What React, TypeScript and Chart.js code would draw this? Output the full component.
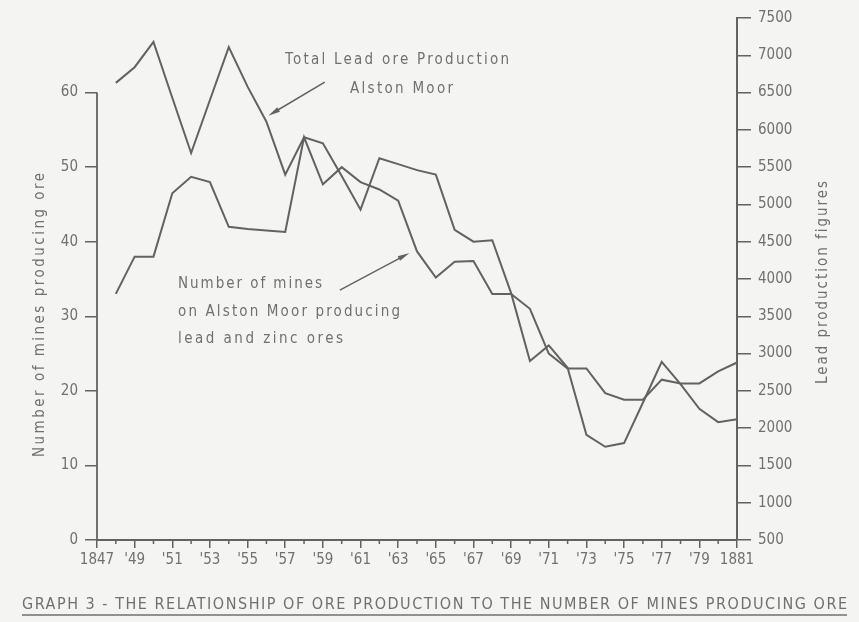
import React, { useEffect, useRef } from "react";
import { Chart, registerables } from "chart.js";

Chart.register(...registerables);

// Years of record, Alston Moor
const years = [
  1848, 1849, 1850, 1851, 1852, 1853, 1854, 1855, 1856, 1857, 1858, 1859,
  1860, 1861, 1862, 1863, 1864, 1865, 1866, 1867, 1868, 1869, 1870, 1871,
  1872, 1873, 1874, 1875, 1876, 1877, 1878, 1879, 1880, 1881,
];

// Total lead ore production (right axis)
const leadOreProduction = [
  6630, 6840, 7180, 6430, 5690, 6400, 7110, 6580, 6110, 5400, 5900, 5820,
  5380, 4930, 5620, 5540, 5460, 5400, 4660, 4500, 4520, 3810, 2900, 3110,
  2810, 1910, 1750, 1800, 2340, 2890, 2590, 2260, 2080, 2120,
];

// Number of mines producing lead and zinc ores (left axis)
const minesProducing = [
  33, 38, 38, 46.5, 48.7, 48, 42, 41.7, 41.5, 41.3, 54, 47.7,
  50, 48, 47, 45.5, 38.7, 35.2, 37.3, 37.4, 33, 33, 31, 25,
  23, 23, 19.7, 18.8, 18.8, 21.5, 21, 21, 22.6, 23.8,
];

// Axis ranges and tick labels
const yearRange = [1847, 1881];
const minesRange = [0, 70];
const minesTickLabels = ["0", "10", "20", "30", "40", "50", "60"];
const productionRange = [500, 7500];

const leadLabel = ["Total Lead ore Production", "Alston Moor"];
const minesLabel = ["Number of mines", "on Alston Moor producing", "lead and zinc ores"];
const leftTitle = "Number of mines producing ore";
const rightTitle = "Lead production figures";
const graphTitle =
  "GRAPH 3 - THE RELATIONSHIP OF ORE PRODUCTION TO THE NUMBER OF MINES PRODUCING ORE";

const INK = "#626262";
const TEXT = "#707070";
const PAPER = "#f4f4f2";
const FONT = '"DejaVu Sans Condensed", "Liberation Sans Narrow", "DejaVu Sans", sans-serif';

function yearLabel(v: number): string {
  if (v === 1847 || v === 1881) return String(v);
  if (v % 2 === 1) return "'" + String(v).slice(2);
  return "";
}

// Draws text spread to a given width (stencil-style lettering)
function spacedText(
  ctx: CanvasRenderingContext2D,
  text: string,
  x: number,
  y: number,
  width: number
) {
  ctx.save();
  (ctx as any).letterSpacing = "0px";
  const w = ctx.measureText(text).width;
  const s = (width - w) / Math.max(text.length - 1, 1);
  (ctx as any).letterSpacing = `${s}px`;
  ctx.textAlign = "left";
  ctx.textBaseline = "middle";
  ctx.fillText(text, x, y);
  ctx.restore();
}

function arrow(
  ctx: CanvasRenderingContext2D,
  x0: number,
  y0: number,
  x1: number,
  y1: number
) {
  const a = Math.atan2(y1 - y0, x1 - x0);
  const len = 12;
  const hw = 2.6;
  ctx.save();
  ctx.strokeStyle = INK;
  ctx.fillStyle = INK;
  ctx.lineWidth = 1.5;
  ctx.beginPath();
  ctx.moveTo(x0, y0);
  ctx.lineTo(x1 - Math.cos(a) * len * 0.6, y1 - Math.sin(a) * len * 0.6);
  ctx.stroke();
  ctx.beginPath();
  ctx.moveTo(x1, y1);
  ctx.lineTo(
    x1 - Math.cos(a) * len - Math.sin(a) * hw,
    y1 - Math.sin(a) * len + Math.cos(a) * hw
  );
  ctx.lineTo(
    x1 - Math.cos(a) * len + Math.sin(a) * hw,
    y1 - Math.sin(a) * len - Math.cos(a) * hw
  );
  ctx.closePath();
  ctx.fill();
  ctx.restore();
}

const decorations = {
  id: "decorations",
  beforeDraw(chart: any) {
    const { ctx, width, height } = chart;
    ctx.save();
    ctx.fillStyle = PAPER;
    ctx.fillRect(0, 0, width, height);
    ctx.restore();
  },
  afterDraw(chart: any) {
    const { ctx, chartArea, scales } = chart;
    const xs = scales.x;
    const ym = scales.mines;
    const yl = scales.lead;

    ctx.save();
    ctx.strokeStyle = INK;
    ctx.lineWidth = 1.8;

    // left spine only spans the labelled range
    ctx.beginPath();
    ctx.moveTo(chartArea.left, ym.getPixelForValue(0) + 1);
    ctx.lineTo(chartArea.left, ym.getPixelForValue(60));
    ctx.stroke();

    // short ticks on the unlabelled years
    ctx.lineWidth = 1.5;
    for (let yr = yearRange[0] + 1; yr < yearRange[1]; yr += 2) {
      const px = xs.getPixelForValue(yr);
      ctx.beginPath();
      ctx.moveTo(px, chartArea.bottom);
      ctx.lineTo(px, chartArea.bottom + 4);
      ctx.stroke();
    }

    // annotations
    ctx.fillStyle = TEXT;
    ctx.font = `15px ${FONT}`;
    spacedText(ctx, leadLabel[0], 285, 60, 224);
    spacedText(ctx, leadLabel[1], 350, 89, 103);
    spacedText(ctx, minesLabel[0], 178, 284, 144);
    spacedText(ctx, minesLabel[1], 178, 312, 222);
    spacedText(ctx, minesLabel[2], 178, 339, 165);

    arrow(
      ctx,
      xs.getPixelForValue(1859.1),
      yl.getPixelForValue(6640),
      xs.getPixelForValue(1856.1),
      yl.getPixelForValue(6190)
    );
    arrow(
      ctx,
      xs.getPixelForValue(1859.9),
      ym.getPixelForValue(33.5),
      xs.getPixelForValue(1863.6),
      ym.getPixelForValue(38.5)
    );

    // axis titles
    ctx.save();
    ctx.translate(40, 315);
    ctx.rotate(-Math.PI / 2);
    spacedText(ctx, leftTitle, -142, 0, 284);
    ctx.restore();

    ctx.save();
    ctx.translate(823, 283);
    ctx.rotate(-Math.PI / 2);
    spacedText(ctx, rightTitle, -101, 0, 203);
    ctx.restore();

    // caption with underline
    ctx.font = `16px ${FONT}`;
    spacedText(ctx, graphTitle, 22, 605, 825);
    ctx.strokeStyle = TEXT;
    ctx.lineWidth = 1.5;
    ctx.beginPath();
    ctx.moveTo(22, 615);
    ctx.lineTo(847, 615);
    ctx.stroke();

    ctx.restore();
  },
};

export default function App() {
  const ref = useRef<HTMLCanvasElement>(null);

  useEffect(() => {
    const canvas = ref.current;
    if (!canvas) return;
    const tickFont = { family: FONT, size: 15 };

    const chart = new Chart(canvas, {
      type: "line",
      data: {
        datasets: [
          {
            label: "Total lead ore production",
            data: years.map((yr, i) => ({ x: yr, y: leadOreProduction[i] })),
            yAxisID: "lead",
            borderColor: INK,
            borderWidth: 2,
            pointRadius: 0,
            tension: 0,
            fill: false,
          },
          {
            label: "Number of mines producing ore",
            data: years.map((yr, i) => ({ x: yr, y: minesProducing[i] })),
            yAxisID: "mines",
            borderColor: INK,
            borderWidth: 2,
            pointRadius: 0,
            tension: 0,
            fill: false,
          },
        ],
      },
      options: {
        responsive: false,
        animation: false,
        devicePixelRatio: 1,
        layout: { padding: { top: 18, left: 0, right: 0, bottom: 0 } },
        plugins: {
          legend: { display: false },
          tooltip: { enabled: false },
        },
        scales: {
          x: {
            type: "linear",
            min: yearRange[0],
            max: yearRange[1],
            afterFit: (s: any) => {
              s.height = 82;
            },
            border: { display: true, color: INK, width: 2 },
            grid: {
              drawOnChartArea: false,
              drawTicks: true,
              tickLength: 8,
              lineWidth: 1.5,
              tickColor: (c: any) =>
                c.tick && c.tick.value % 2 === 0 ? "rgba(0,0,0,0)" : INK,
            },
            ticks: {
              stepSize: 1,
              autoSkip: false,
              maxRotation: 0,
              padding: 3,
              color: TEXT,
              font: tickFont,
              callback: (v: any) => yearLabel(Number(v)),
            },
          },
          mines: {
            type: "linear",
            position: "left",
            min: minesRange[0],
            max: minesRange[1],
            afterFit: (s: any) => {
              s.width = 97;
            },
            border: { display: false },
            grid: {
              drawOnChartArea: false,
              drawTicks: true,
              tickLength: 12,
              lineWidth: 1.5,
              tickColor: (c: any) =>
                c.tick && c.tick.value > 60 ? "rgba(0,0,0,0)" : INK,
            },
            ticks: {
              stepSize: 10,
              padding: 7,
              color: TEXT,
              font: tickFont,
              callback: (v: any) => minesTickLabels[Number(v) / 10] ?? "",
            },
          },
          lead: {
            type: "linear",
            position: "right",
            min: productionRange[0],
            max: productionRange[1],
            afterFit: (s: any) => {
              s.width = 122;
            },
            border: { display: true, color: INK, width: 2 },
            grid: {
              drawOnChartArea: false,
              drawTicks: true,
              tickLength: 14,
              lineWidth: 1.5,
              color: INK,
            },
            ticks: {
              stepSize: 500,
              padding: 7,
              color: TEXT,
              font: tickFont,
              callback: (v: any) => String(v),
            },
          },
        },
      },
      plugins: [decorations],
    } as any);

    return () => chart.destroy();
  }, []);

  return (
    <div
      style={{
        position: "fixed",
        left: 0,
        top: 0,
        width: 859,
        height: 622,
        background: PAPER,
      }}
    >
      <canvas
        ref={ref}
        width={859}
        height={622}
        style={{ display: "block", width: 859, height: 622 }}
      />
    </div>
  );
}
